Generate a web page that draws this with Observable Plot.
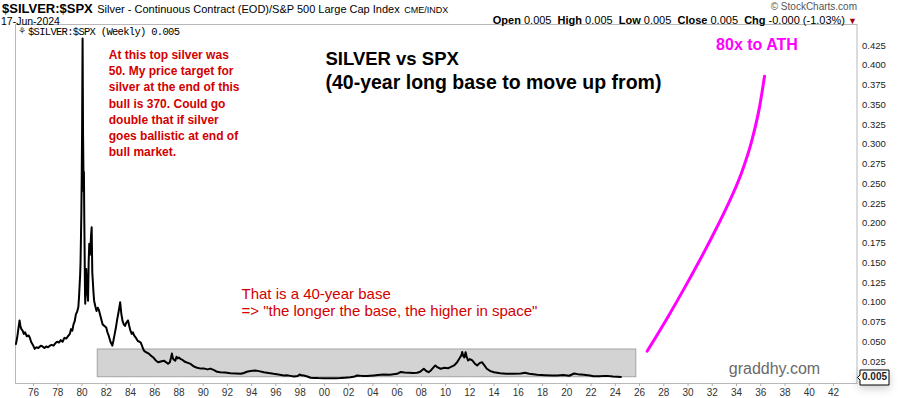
<!DOCTYPE html>
<html><head><meta charset="utf-8">
<script src="https://cdn.jsdelivr.net/npm/d3@7"></script>
<script src="https://cdn.jsdelivr.net/npm/@observablehq/plot@0.6"></script>
<style>
body{margin:0;background:#fff;}
#wrap{position:relative;width:900px;height:398px;font-family:"Liberation Sans",Arial,sans-serif;overflow:hidden;background:#fff}
#chart svg{position:absolute;left:0;top:0}
.h{position:absolute;white-space:nowrap;color:#000;line-height:1}
</style></head><body>
<div id="wrap">
<div id="chart"></div>
<div class="h" style="left:2px;top:0px;"><b style="font-size:13px">$SILVER:$SPX</b> <span style="font-size:11px">Silver - Continuous Contract (EOD)/S&amp;P 500 Large Cap Index</span> <span style="font-size:9px">CME/INDX</span></div>
<div class="h" style="left:1px;top:16px;font-size:10.5px">17-Jun-2024</div>
<div class="h" style="right:43px;top:2px;font-size:10px;color:#555">© StockCharts.com</div>
<div class="h" style="right:43px;top:15px;font-size:11px"><b>Open</b> 0.005&nbsp; <b>High</b> 0.005&nbsp; <b>Low</b> 0.005&nbsp; <b>Close</b> 0.005&nbsp; <b>Chg</b> -0.000 (-1.03%) <span style="color:#a00010;font-size:9px">▼</span></div>
<div class="h" style="left:18px;top:27px;font-size:9px;color:#333">⚘</div>
<div class="h" style="left:28px;top:26.5px;font-family:'Liberation Mono','DejaVu Sans Mono',monospace;font-size:10.5px;letter-spacing:-0.7px">$SILVER:$SPX (Weekly) 0.005</div>
</div>
<script>
// ---- data ----
const silverT = [1974.55,1974.65,1974.75,1974.85,1974.92,1975.0,1975.1,1975.2,1975.3,1975.45,1975.6,1975.7,1975.8,1975.95,1976.1,1976.25,1976.4,1976.6,1976.75,1976.9,1977.05,1977.2,1977.35,1977.5,1977.65,1977.8,1977.95,1978.1,1978.25,1978.4,1978.55,1978.7,1978.85,1979.0,1979.1,1979.2,1979.3,1979.4,1979.5,1979.6,1979.7,1979.75,1979.8,1979.85,1979.88,1979.92,1979.95,1979.98,1980.01,1980.03,1980.05,1980.07,1980.09,1980.11,1980.14,1980.16,1980.19,1980.22,1980.25,1980.27,1980.3,1980.35,1980.4,1980.45,1980.5,1980.55,1980.6,1980.65,1980.7,1980.75,1980.8,1980.85,1980.9,1980.95,1981.0,1981.1,1981.2,1981.3,1981.4,1981.5,1981.6,1981.7,1981.85,1982.0,1982.1,1982.2,1982.35,1982.5,1982.6,1982.7,1982.8,1982.9,1983.0,1983.1,1983.15,1983.25,1983.35,1983.45,1983.55,1983.65,1983.8,1983.9,1984.0,1984.1,1984.2,1984.3,1984.45,1984.6,1984.75,1984.85,1985.0,1985.1,1985.25,1985.4,1985.5,1985.65,1985.8,1985.9,1986.05,1986.2,1986.3,1986.5,1986.75,1986.95,1987.1,1987.25,1987.35,1987.42,1987.5,1987.6,1987.7,1987.8,1987.9,1988.0,1988.15,1988.3,1988.45,1988.6,1988.8,1988.95,1989.2,1989.5,1989.8,1990.1,1990.35,1990.6,1990.9,1991.15,1991.4,1991.8,1992.25,1992.7,1993.1,1993.35,1993.6,1993.9,1994.3,1994.6,1995.0,1995.4,1995.8,1996.2,1996.65,1996.9,1997.2,1997.5,1997.8,1997.95,1998.1,1998.3,1998.6,1998.85,1999.2,1999.5,1999.95,2000.5,2001.0,2001.3,2001.7,2002.15,2002.5,2002.7,2003.1,2003.5,2004.1,2004.4,2004.9,2005.4,2006.0,2006.3,2006.6,2007.0,2007.3,2007.65,2007.9,2008.2,2008.4,2008.6,2008.8,2009.0,2009.15,2009.3,2009.6,2009.9,2010.2,2010.4,2010.7,2010.95,2011.15,2011.3,2011.37,2011.45,2011.55,2011.65,2011.72,2011.85,2012.0,2012.2,2012.4,2012.6,2012.8,2013.0,2013.2,2013.4,2013.7,2014.0,2014.5,2015.0,2015.6,2016.2,2016.55,2016.9,2017.55,2018.2,2018.8,2019.2,2019.7,2020.2,2020.6,2020.9,2021.4,2021.9,2022.2,2022.7,2023.1,2023.35,2023.8,2024.2,2024.46];
const silverV = [0.047,0.055,0.066,0.077,0.070,0.066,0.064,0.060,0.062,0.057,0.058,0.055,0.050,0.046,0.041,0.043,0.042,0.045,0.044,0.042,0.044,0.043,0.045,0.046,0.045,0.048,0.050,0.049,0.052,0.050,0.055,0.054,0.057,0.060,0.066,0.064,0.072,0.076,0.085,0.088,0.094,0.105,0.120,0.135,0.150,0.185,0.215,0.260,0.320,0.380,0.434,0.370,0.310,0.280,0.240,0.265,0.205,0.160,0.110,0.098,0.125,0.142,0.125,0.110,0.102,0.150,0.174,0.160,0.168,0.185,0.195,0.138,0.125,0.112,0.102,0.095,0.089,0.093,0.090,0.084,0.078,0.072,0.070,0.068,0.062,0.058,0.050,0.045,0.052,0.060,0.068,0.078,0.086,0.095,0.100,0.085,0.076,0.072,0.070,0.074,0.077,0.070,0.064,0.060,0.062,0.058,0.055,0.051,0.050,0.049,0.043,0.039,0.037,0.036,0.035,0.033,0.031,0.030,0.027,0.025,0.024,0.025,0.026,0.024,0.022,0.024,0.030,0.035,0.029,0.027,0.026,0.031,0.029,0.030,0.028,0.027,0.025,0.024,0.023,0.022,0.019,0.017,0.016,0.016,0.015,0.016,0.014,0.012,0.0115,0.011,0.010,0.0098,0.0094,0.0105,0.0120,0.0130,0.0136,0.0128,0.0115,0.0105,0.0094,0.0085,0.0073,0.0076,0.0068,0.0060,0.0066,0.0085,0.0075,0.0073,0.0060,0.0045,0.0042,0.0040,0.0039,0.0037,0.0038,0.0040,0.0045,0.0051,0.0060,0.0073,0.0068,0.0065,0.0073,0.0078,0.0086,0.0082,0.0094,0.0118,0.0110,0.0108,0.0105,0.0107,0.0120,0.0158,0.0130,0.0115,0.0140,0.0175,0.0199,0.0180,0.0158,0.0170,0.0165,0.0178,0.0200,0.0241,0.0290,0.0330,0.0370,0.0320,0.0300,0.0368,0.0320,0.0263,0.0280,0.0263,0.0225,0.0199,0.0230,0.0241,0.0200,0.0158,0.0128,0.0115,0.0102,0.0095,0.0094,0.0098,0.0108,0.0095,0.0082,0.0077,0.0074,0.0073,0.0078,0.0070,0.0098,0.0090,0.0082,0.0072,0.0064,0.0062,0.0068,0.0068,0.0060,0.0058,0.0055];
const lastValue = 0.005;

// projected path (magenta)
const projT = [2026.63,2028.28,2029.93,2031.58,2033.23,2034.33,2035.29,2035.92,2036.31];
const projV = [0.0381,0.0798,0.1242,0.1710,0.2216,0.2604,0.3062,0.3489,0.3862];

// base box
const baseT = [1981.3, 2025.73];
const baseV = [0.0051, 0.0402];

// ticks
const xTickYears = [1976,1978,1980,1982,1984,1986,1988,1990,1992,1994,1996,1998,2000,2002,2004,2006,2008,2010,2012,2014,2016,2018,2020,2022,2024,2026,2028,2030,2032,2034,2036,2038,2040,2042];
const xTickLabels = ["76","78","80","82","84","86","88","90","92","94","96","98","00","02","04","06","08","10","12","14","16","18","20","22","24","26","28","30","32","34","36","38","40","42"];
const yTicks = [0.025,0.05,0.075,0.1,0.125,0.15,0.175,0.2,0.225,0.25,0.275,0.3,0.325,0.35,0.375,0.4,0.425];

// annotations (anchored in data space)
const noteRed = ["At this top silver was","50. My price target for","silver at the end of this","bull is 370. Could go","double that if silver","goes ballistic at end of","bull market."];
const noteTitle1 = "SILVER vs SPX";
const noteTitle2 = "(40-year long base to move up from)";
const noteBase = ["That is a 40-year base","=> \"the longer the base, the higher in space\""];
const noteATH = "80x to ATH";
const noteSite = "graddhy.com";

const silver = silverT.map((t, i) => ({t, v: silverV[i]}));
const proj = projT.map((t, i) => ({t, v: projV[i]}));
const labelMap = new Map(xTickYears.map((y, i) => [y, xTickLabels[i]]));

const chart = Plot.plot({
  width: 900, height: 398,
  marginTop: 24, marginBottom: 15, marginLeft: 15, marginRight: 43.5,
  style: {fontFamily: "Liberation Sans, Arial, sans-serif", fontSize: "10px", color: "#222", background: "transparent", overflow: "visible"},
  x: {type: "linear", domain: [1974.515, 2043.94]},
  y: {domain: [-0.00285, 0.4516]},
  marks: [
    Plot.rect([{x1: baseT[0], x2: baseT[1], y1: baseV[0], y2: baseV[1]}], {x1: "x1", x2: "x2", y1: "y1", y2: "y2", fill: "#d3d3d3", stroke: "#a3a3a3", strokeWidth: 1}),
    Plot.frame({stroke: "#b8b8b8"}),
    Plot.axisX({ticks: xTickYears, tickFormat: d => labelMap.get(d), tickSize: 3, tickPadding: 2, stroke: "#aaa", fill: "#333", label: null, fontSize: 10}),
    Plot.axisY({anchor: "right", ticks: yTicks, tickFormat: d3.format(".3f"), tickSize: 0, tickPadding: 5, label: null, fill: "#222", fontSize: 9.5}),
    Plot.line(silver, {x: "t", y: "v", stroke: "black", strokeWidth: 2}),
    Plot.line(proj, {x: "t", y: "v", stroke: "#ff00ff", strokeWidth: 3, curve: "monotone-x"}),
    Plot.text([{t: 1982.21, v: 0.4224}], {x: "t", y: "v", text: () => noteRed.join("\n"), textAnchor: "start", lineAnchor: "top", lineHeight: 1.35, fontSize: 12, fontWeight: "bold", fill: "#d20000"}),
    Plot.text([{t: 2000.09, v: 0.4073}], {x: "t", y: "v", text: () => noteTitle1, textAnchor: "start", lineAnchor: "middle", fontSize: 18.5, fontWeight: "bold", fill: "#000"}),
    Plot.text([{t: 2000.09, v: 0.3782}], {x: "t", y: "v", text: () => noteTitle2, textAnchor: "start", lineAnchor: "middle", fontSize: 19.5, fontWeight: "bold", fill: "#000"}),
    Plot.text([{t: 1993.16, v: 0.1201}], {x: "t", y: "v", text: () => noteBase.join("\n"), textAnchor: "start", lineAnchor: "top", lineHeight: 1.16, fontSize: 15, fill: "#d20000"}),
    Plot.text([{t: 2035.69, v: 0.4254}], {x: "t", y: "v", text: () => noteATH, textAnchor: "middle", lineAnchor: "middle", fontSize: 16, fontWeight: "bold", fill: "#ff00ff"}),
    Plot.text([{t: 2037.13, v: 0.01576}], {x: "t", y: "v", text: () => noteSite, textAnchor: "middle", lineAnchor: "middle", fontSize: 16, fill: "#6a6a6a"}),
    Plot.tip([{t: 2043.94, v: lastValue}], {x: "t", y: "v", title: d => d3.format(".3f")(d.v), anchor: "left", pointerSize: 5, textPadding: 2, fontSize: 10, fontWeight: "bold", fill: "white", stroke: "black"})
  ]
});
document.getElementById("chart").appendChild(chart);
</script>
</body></html>
